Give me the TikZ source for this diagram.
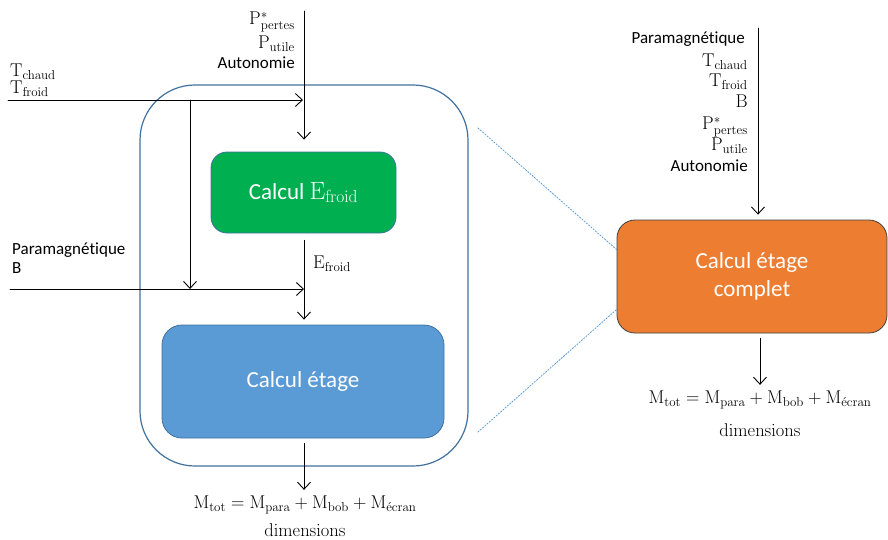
\RequirePackage{fix-cm}
\documentclass[tikz,border=0pt]{standalone}
\usepackage[no-math]{fontspec}
\setmainfont{Carlito}[Ligatures=NoCommon]
\usetikzlibrary{arrows.meta}

\definecolor{vertbox}{HTML}{00B050}
\definecolor{bleubox}{HTML}{5B9BD5}
\definecolor{orangebox}{HTML}{ED7D31}
\definecolor{bleutrait}{HTML}{41719C}

\tikzset{
	bloc/.style={draw=bleutrait, line width=0.8pt, rounded corners=16pt, text=white,
		font=\fontsize{23}{27}\selectfont, align=center, inner sep=0pt},
	lbl/.style={inner sep=0pt, font=\fontsize{17}{20}\selectfont},
	mth/.style={inner sep=0pt, font=\fontsize{18.5}{22}\selectfont},
	fleche/.style={->, line width=0.9pt}
}

\begin{document}
\begin{tikzpicture}[x=1pt, y=-1pt, >={Straight Barb[length=7pt, width=13pt]}, line cap=round]
	\useasboundingbox (0,0) rectangle (888,539);
	
	% Zone englobante
	\node[draw=bleutrait, line width=1.2pt, rounded corners=55pt, minimum width=328pt,
		minimum height=381pt, inner sep=0pt] (zone) at (304,275.5) {};
	
	% Blocs de calcul
	\node[bloc, fill=vertbox, minimum width=185pt, minimum height=81pt] (froid) at (303.5,192.5)
		{Calcul {\fontsize{25}{27}\selectfont$\mathrm{E}_{\mathrm{froid}}$}};
	\node[bloc, fill=bleubox, minimum width=282pt, minimum height=113pt, rounded corners=20pt] (etage) at (303,381.5)
		{Calcul étage};
	\node[bloc, draw=black!75, fill=orangebox, minimum width=270pt, minimum height=113pt, rounded corners=18pt] (complet) at (752,276.5)
		{Calcul étage\\[1pt]complet};
	
	% Entrees du bloc froid
	\coordinate (hautA) at (304,11);
	\node[mth, anchor=east] (pertesA) at (295,22) {$\mathrm{P}^{*}_{\mathrm{pertes}}$};
	\node[mth, anchor=east] (utileA) at (295,44) {$\mathrm{P}_{\mathrm{utile}}$};
	\node[lbl, anchor=east] (autoA) at (295,63) {Autonomie};
	\draw[fleche] (hautA) -- ([yshift=12pt]froid.north -| hautA);
	
	\coordinate (entT) at (8,100);
	\coordinate (brT) at (190,100);
	\coordinate (finT) at (303,100);
	\node[mth, anchor=west] (chaudA) at (10,72) {$\mathrm{T}_{\mathrm{chaud}}$};
	\node[mth, anchor=west] (froidA) at (10,89) {$\mathrm{T}_{\mathrm{froid}}$};
	\draw[fleche] (entT) -- (finT);
	
	% Entrees du bloc etage
	\coordinate (entB) at (10,289);
	\coordinate (brB) at (190,289);
	\coordinate (finB) at (304,289);
	\node[lbl, anchor=west] (paraA) at (12,250) {Paramagnétique};
	\node[lbl, anchor=west] (bA) at (12,268) {B};
	\draw[fleche] (brT) -- (brB);
	\draw[fleche] (entB) -- (finB);
	
	\draw[fleche] ([yshift=-7pt]froid.south -| hautA) -- ([yshift=5pt]etage.north -| hautA);
	\node[mth, anchor=west] (efroid) at (313,264) {$\mathrm{E}_{\mathrm{froid}}$};
	
	% Sortie du bloc etage
	\node[mth] (masseA) at (305,505) {$\mathrm{M}_{\mathrm{tot}}=\mathrm{M}_{\mathrm{para}}+\mathrm{M}_{\mathrm{bob}}+\mathrm{M}_{\acute{\mathrm{e}}\mathrm{cran}}$};
	\node[mth] (dimA) at (305,530) {$\mathrm{dimensions}$};
	\draw[fleche] ([yshift=-5pt]etage.south -| hautA) -- ([yshift=6pt]masseA.north -| hautA);
	
	% Bloc complet
	\coordinate (hautB) at (758,28);
	\node[lbl, anchor=east] (paraB) at (745,39) {Paramagnétique};
	\node[mth, anchor=east] (chaudB) at (748,62) {$\mathrm{T}_{\mathrm{chaud}}$};
	\node[mth, anchor=east] (froidB) at (748,82) {$\mathrm{T}_{\mathrm{froid}}$};
	\node[mth, anchor=east] (bB) at (748,101) {$\mathrm{B}$};
	\node[mth, anchor=east] (pertesB) at (748,127) {$\mathrm{P}^{*}_{\mathrm{pertes}}$};
	\node[mth, anchor=east] (utileB) at (748,146) {$\mathrm{P}_{\mathrm{utile}}$};
	\node[lbl, anchor=east] (autoB) at (748,166) {Autonomie};
	\draw[fleche] (hautB) -- ([yshift=5pt]complet.north -| hautB);
	
	\node[mth] (masseB) at (760,400) {$\mathrm{M}_{\mathrm{tot}}=\mathrm{M}_{\mathrm{para}}+\mathrm{M}_{\mathrm{bob}}+\mathrm{M}_{\acute{\mathrm{e}}\mathrm{cran}}$};
	\node[mth] (dimB) at (760,430) {$\mathrm{dimensions}$};
	\draw[fleche] ([yshift=-5pt]complet.south -| 760,0) -- ([yshift=6pt]masseB.north -| 760,0);
	
	% Lignes de zoom
	\coordinate (zh) at (478,128);
	\coordinate (zb) at (478,432);
	\draw[bleubox, line width=0.8pt, dash pattern=on 1.5pt off 1.5pt] (zh) -- ([yshift=27pt]complet.west);
	\draw[bleubox, line width=0.8pt, dash pattern=on 1.5pt off 1.5pt] (zb) -- ([yshift=-33pt]complet.west);
\end{tikzpicture}
\end{document}
